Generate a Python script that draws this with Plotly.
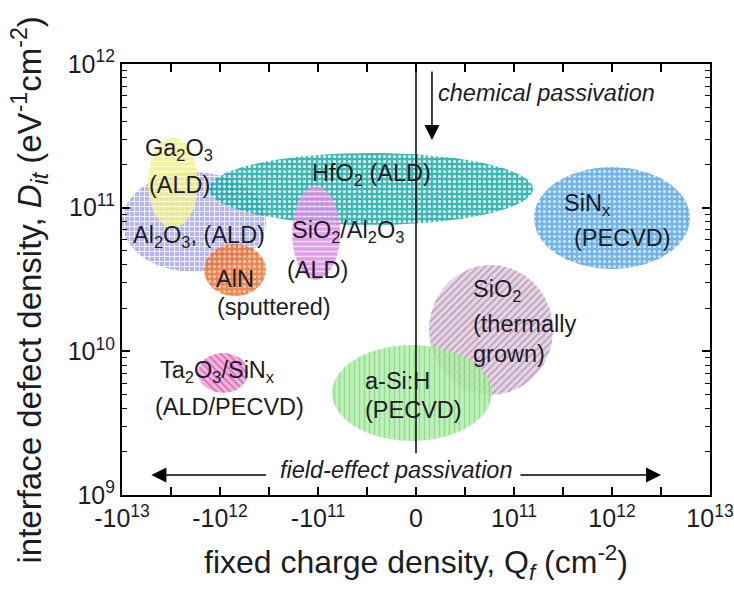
import numpy as np
import plotly.graph_objects as go

# Passivation layers: Qf position on the symmetric-log axis (in decades from 0),
# Dit centre value and half-extent in decades
materials = ["Al2O3", "Ga2O3", "HfO2", "AlN", "SiO2/Al2O3", "SiNx",
             "SiO2", "a-Si:H", "Ta2O3/SiNx"]
qf_center = [-2.265, -2.48, -0.459, -1.847, -1.02, 2.0, 0.765, -0.041, -1.969]
qf_halfwidth = [0.735, 0.255, 1.653, 0.316, 0.245, 0.796, 0.633, 0.816, 0.255]
dit_center = [7.94e10, 1.49e11, 1.35e11, 3.68e10, 6.67e10, 8.47e10,
              1.41e10, 5.13e9, 7.08e9]
dit_halfspan = [0.348, 0.313, 0.251, 0.181, 0.327, 0.355, 0.452, 0.334, 0.139]

# axis ticks
x_tickvals = [-3, -2, -1, 0, 1, 2, 3]
x_ticktext = ["-10<sup>13</sup>", "-10<sup>12</sup>", "-10<sup>11</sup>", "0",
              "10<sup>11</sup>", "10<sup>12</sup>", "10<sup>13</sup>"]
y_tickvals = [1e9, 1e10, 1e11, 1e12]
y_ticktext = ["10<sup>9</sup>", "10<sup>10</sup>", "10<sup>11</sup>", "10<sup>12</sup>"]

# fill styles: (background, pattern colour, pattern shape)
styles = {
    "Al2O3": ("#aaa7ec", "#ffffff", "+"),
    "Ga2O3": ("#f1ef8a", "#fbfbd2", "-"),
    "HfO2": ("#13aeaa", "#ffffff", "."),
    "AlN": ("#e8733a", "#f7bf98", "."),
    "SiO2/Al2O3": ("#da8ce6", "#f6d8f7", "-"),
    "SiNx": ("#5aa6e2", "#c4e2f8", "."),
    "SiO2": ("#e0cde0", "#b088ac", "/"),
    "a-Si:H": ("#b6eeae", "#7ed87a", "|"),
    "Ta2O3/SiNx": ("#f1a3da", "#cf4fa6", "\\"),
}

FONT = "Liberation Sans, Arial, sans-serif"
TXT = "#1c1c26"

fig = go.Figure()
t = np.linspace(0, 2 * np.pi, 181)
for name, cx, rx, cy, ry in zip(materials, qf_center, qf_halfwidth,
                                dit_center, dit_halfspan):
    bg, fg, shape = styles[name]
    xs = cx + rx * np.cos(t)
    ys = 10 ** (np.log10(cy) + ry * np.sin(t))
    fig.add_trace(go.Scatter(
        x=xs, y=ys, mode="lines", fill="toself", name=name,
        line=dict(width=0), fillcolor=bg, opacity=0.85,
        fillpattern=dict(shape=shape, bgcolor=bg, fgcolor=fg,
                         size=5, solidity=0.3, fillmode="replace"),
        hoverinfo="name", showlegend=False))

# Qf = 0 divider
fig.add_trace(go.Scatter(x=[0, 0], y=[1e12, 10 ** 9.29], mode="lines",
                         line=dict(color="black", width=1.5),
                         hoverinfo="skip", showlegend=False))

labels = [
    ("Ga<sub>2</sub>O<sub>3</sub>", -2.418, 11.402, "center"),
    ("(ALD)", -2.418, 11.158, "center"),
    ("HfO<sub>2</sub> (ALD)", -0.459, 11.234, "center"),
    ("Al<sub>2</sub>O<sub>3</sub>, (ALD)", -2.214, 10.796, "center"),
    ("AlN", -1.847, 10.504, "center"),
    ("(sputtered)", -1.449, 10.309, "center"),
    ("SiO<sub>2</sub>/Al<sub>2</sub>O<sub>3</sub>", -0.694, 10.831, "center"),
    ("(ALD)", -1.010, 10.566, "center"),
    ("SiN<sub>x</sub>", 1.745, 11.019, "center"),
    ("(PECVD)", 2.102, 10.789, "center"),
    ("SiO<sub>2</sub>", 0.561, 10.420, "left"),
    ("(thermally", 0.561, 10.191, "left"),
    ("grown)", 0.561, 9.982, "left"),
    ("a-Si:H", -0.541, 9.794, "left"),
    ("(PECVD)", -0.541, 9.592, "left"),
    ("Ta<sub>2</sub>O<sub>3</sub>/SiN<sub>x</sub>", -2.633, 9.857, "left"),
    ("(ALD/PECVD)", -2.684, 9.613, "left"),
]
for text, x, ly, anchor in labels:
    fig.add_annotation(x=x, y=ly, text=text, showarrow=False, xanchor=anchor,
                       font=dict(family=FONT, size=23.5, color=TXT))

# passivation arrows
fig.add_annotation(x=1.327, y=11.798, text="<i>chemical passivation</i>",
                   showarrow=False, font=dict(family=FONT, size=23.5, color=TXT))
fig.add_annotation(x=0.163, y=11.471, ax=0, ay=-70, text="", showarrow=True,
                   arrowhead=2, arrowsize=2, arrowwidth=1.5, arrowcolor="black")
fig.add_annotation(x=-0.204, y=9.175, text="<i>field-effect passivation</i>",
                   showarrow=False, font=dict(family=FONT, size=23.5, color=TXT))
fig.add_annotation(x=-2.70, y=9.14, ax=116, ay=0, text="", showarrow=True,
                   arrowhead=2, arrowsize=2, arrowwidth=1.5, arrowcolor="black")
fig.add_annotation(x=2.50, y=9.14, ax=-142, ay=0, text="", showarrow=True,
                   arrowhead=2, arrowsize=2, arrowwidth=1.5, arrowcolor="black")

# y-axis title, placed as rotated text left of the tick labels
fig.add_annotation(xref="paper", yref="paper", x=-0.157, y=0.476, textangle=-90,
                   text="interface defect density, <i>D</i><sub><i>it</i></sub> "
                        "(eV<sup>-1</sup>cm<sup>-2</sup>)",
                   showarrow=False, xanchor="center", yanchor="middle",
                   font=dict(family=FONT, size=33, color=TXT))

axis_common = dict(showline=True, linewidth=2, linecolor="black", mirror="ticks",
                   ticks="inside", ticklen=8, tickwidth=1.5, tickcolor="black",
                   showgrid=False, zeroline=False, ticklabeloverflow="allow",
                   automargin=False,
                   tickfont=dict(family=FONT, size=25, color=TXT))

y_minor = [m * 10.0 ** e for e in (9, 10, 11) for m in range(2, 10)]

fig.update_xaxes(range=[-3, 3], tickmode="array", tickvals=x_tickvals,
                 ticktext=x_ticktext,
                 minor=dict(tickmode="array", tickvals=[-2.5, -1.5, -0.5, 0.5, 1.5, 2.5],
                            ticks="inside", ticklen=8, tickwidth=1.5, tickcolor="black"),
                 title=dict(text="fixed charge density, Q<sub><i>f</i></sub> (cm<sup>-2</sup>)",
                            font=dict(family=FONT, size=32, color=TXT), standoff=20),
                 **axis_common)
fig.update_yaxes(type="log", range=[9, 12], tickmode="array", tickvals=y_tickvals,
                 ticktext=y_ticktext,
                 minor=dict(tickmode="array", tickvals=y_minor, ticks="inside",
                            ticklen=5, tickwidth=1.2, tickcolor="black"),
                 **axis_common)

fig.update_layout(width=734, height=589, margin=dict(l=122, r=24, t=64, b=94),
                  paper_bgcolor="white", plot_bgcolor="white",
                  font=dict(family=FONT, color=TXT))

fig.write_html("out.html")
